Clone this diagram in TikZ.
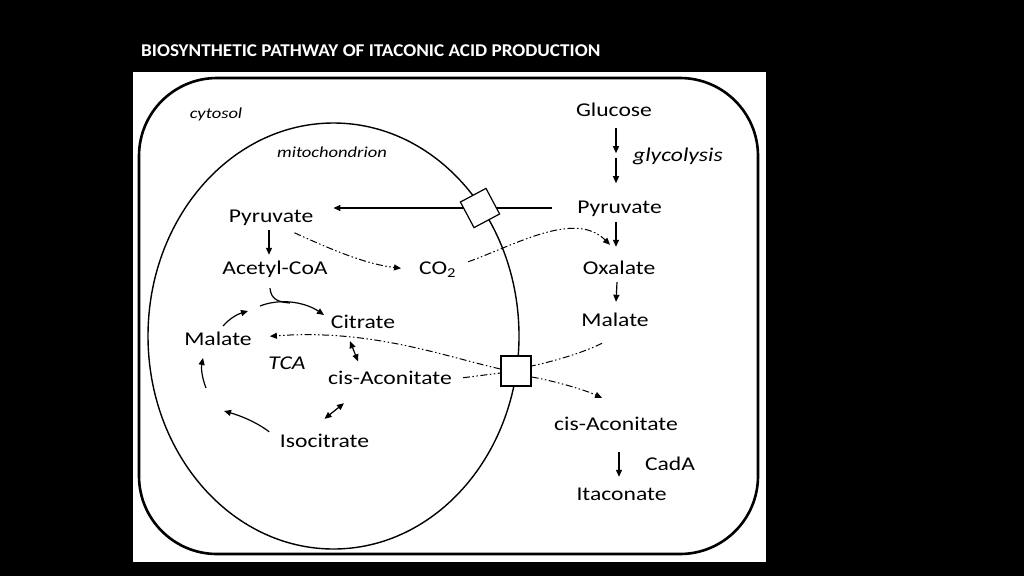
\documentclass[tikz,border=0pt]{standalone}
\usepackage{fontspec}
\setmainfont{Carlito}[FakeStretch=1.21]
\newfontfamily\titlefont{Carlito}[FakeStretch=1.065]
\usetikzlibrary{arrows.meta,calc}
\begin{document}
\begin{tikzpicture}[x=1pt,y=-1pt,
  lbl/.style={font=\fontsize{19.5}{22}\selectfont, inner sep=0pt, anchor=base, text height=12.5pt, text depth=4pt},
  ilbl/.style={lbl, font=\fontsize{19.5}{22}\selectfont\itshape},
  slbl/.style={inner sep=0pt, anchor=base, font=\fontsize{15.3}{18}\selectfont\itshape},
  arr/.style={line width=1.2pt, -{Triangle[length=7pt,width=6pt]}},
  darr/.style={line width=1.2pt, {Triangle[length=7pt,width=6pt]}-{Triangle[length=7pt,width=6pt]}},
  ddot/.style={line width=1pt, dash pattern=on 7pt off 2.5pt on 1.5pt off 2.5pt on 1.5pt off 2.5pt},
  ddarr/.style={ddot, -{Triangle[length=7pt,width=6pt]}},
  porter/.style={draw, line width=1.2pt, fill=white, inner sep=0pt}
]
\useasboundingbox (0,0) rectangle (1024,576);
\fill[black] (0,0) rectangle (1024,576);
\fill[white] (133,72) rectangle (766,562);
\node[anchor=base west, inner sep=0pt, text=white, font=\fontsize{18}{20}\selectfont\titlefont\bfseries] (title) at (141,56) {BIOSYNTHETIC PATHWAY OF ITACONIC ACID PRODUCTION};

% cell and mitochondrion
\draw[line width=2.6pt, rounded corners=78pt] (139,78) rectangle (758,554);
\draw[line width=1.4pt] (333.5,336) ellipse [x radius=185.5pt, y radius=213pt];

% labels
\node[slbl] (cyt) at (216,118) {cytosol};
\node[slbl] (mito) at (332,157) {mitochondrion};
\node[lbl] (glu) at (614,116) {Glucose};
\node[ilbl, anchor=base west] (gly) at (633,161) {glycolysis};
\node[lbl] (pyr2) at (619.5,213) {Pyruvate};
\node[lbl] (oxa) at (619,274) {Oxalate};
\node[lbl] (mal2) at (615,326) {Malate};
\node[lbl] (cis2) at (616,430) {cis-Aconitate};
\node[lbl] (cada) at (670,470) {CadA};
\node[lbl] (ita) at (621.5,500) {Itaconate};
\node[lbl] (pyr1) at (271,222) {Pyruvate};
\node[lbl] (acoa) at (275,274) {Acetyl-CoA};
\node[lbl, anchor=base west] (co2) at (419,274) {CO\textsubscript{2}};
\node[lbl] (cit) at (363,328) {Citrate};
\node[lbl] (mal1) at (218,345) {Malate};
\node[ilbl] (tca) at (287,369) {TCA};
\node[lbl] (cis1) at (390,384) {cis-Aconitate};
\node[lbl] (iso) at (324.5,447) {Isocitrate};

% transport line through the membrane
\coordinate (ps) at ($(pyr2.west)+(-25,-0.75)$);
\draw[arr] (ps) -- ($(ps -| pyr1.east)+(20,0)$);
\node[porter, minimum size=29pt, rotate=28] (box1) at (480,208) {};
\node[porter, minimum size=30pt] (box2) at (516,371) {};

% cytosolic straight arrows
\draw[arr] ($(glu.south)+(2,8)$) -- ++(0,25);
\draw[arr] ($(glu.south)+(2,38)$) -- ++(0,25);
\draw[arr] ($(pyr2.south)+(-3.5,5)$) -- ($(oxa.north)+(-3,-14.5)$);
\draw[arr] ($(oxa.south)+(-2,4)$) -- ($(mal2.north)+(1,-11.5)$);
\draw[arr] ($(cis2.south)+(3,18)$) -- ($(ita.north)+(-2.5,-10.5)$);

% mitochondrial arrows
\draw[arr] ($(pyr1.south)+(-2,4)$) -- ($(acoa.north)+(-6,-6.5)$);
\coordinate (a1) at (260,306);
\coordinate (a2) at (324,315);
\draw[arr] (a1) .. controls (280,298) and (305,302) .. (a2);
\draw[line width=1.2pt] ($(acoa.south)+(-5,10)$) .. controls (271,298) and (276,302) .. (290,303);
\draw[arr] (223,326) .. controls (230,318) and (238,314) .. (248,311);
\draw[arr] (206,388) .. controls (202,378) and (201,368) .. (203,358);
\draw[arr] ($(iso.north west)+(-10.5,-2.5)$) .. controls (255,421) and (238,415) .. (224,411);
\draw[darr] ($(cit.south)+(-13,9)$) -- ($(cis1.north)+(-32,-10)$);
\draw[darr] ($(cis1.south)+(-46,15)$) -- ($(iso.north)+(0,-15.5)$);

% dash-dot-dot connectors
\draw[ddarr] ($(pyr1.east)+(-19,15)$) .. controls (330,249) and (365,264) .. ($(co2.west)+(-18,-1.5)$);
\draw[ddarr] ($(co2.east)+(12,-8)$) .. controls (515,245) and (575,210) .. ($(oxa.north)+(-9,-16.5)$);
\draw[ddot] ($(mal2.south)+(-13,13)$) .. controls (585,352) and (555,361) .. ($(box2.east)+(0,-5)$);
\draw[ddarr] ($(box2.east)+(0,6)$) .. controls (555,381) and (585,390) .. ($(cis2.north)+(-14,-19.5)$);
\draw[ddarr] ($(box2.west)+(0,-2)$) .. controls (440,355) and (370,329) .. ($(mal1.east)+(18,-4.5)$);
\draw[ddot] ($(cis1.east)+(11,-2)$) -- ($(box2.west)+(0,2)$);
\end{tikzpicture}
\end{document}
